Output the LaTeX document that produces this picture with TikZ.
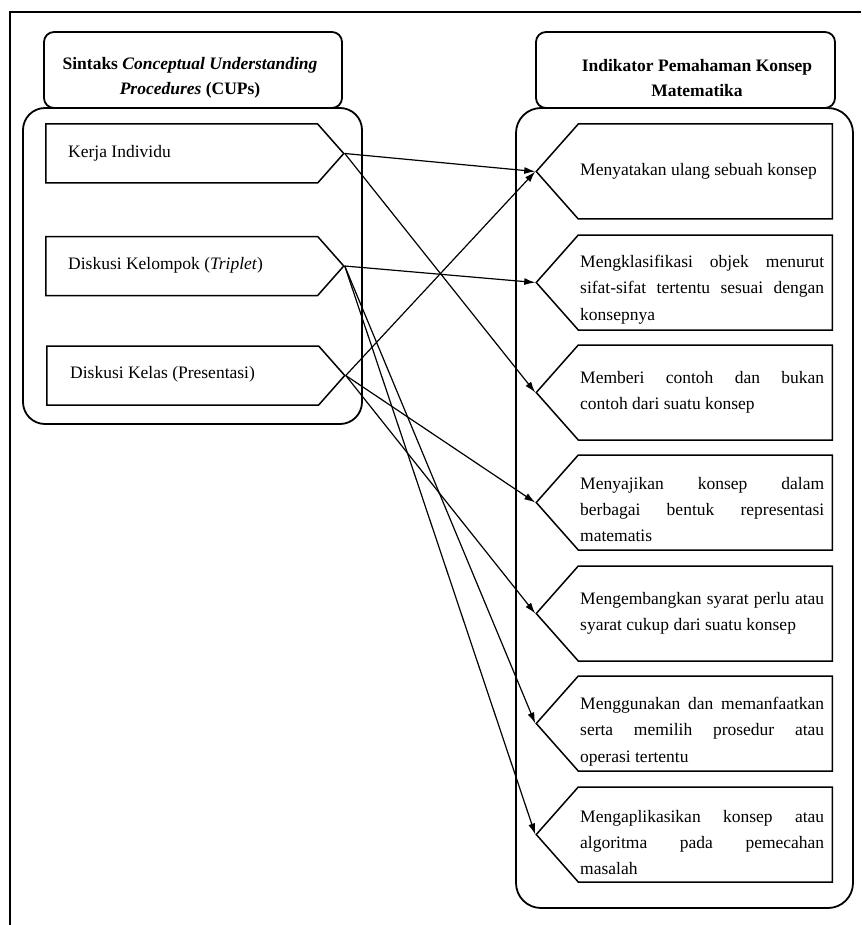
\documentclass[tikz,border=0pt]{standalone}
\usepackage{fontspec}
\setmainfont{Liberation Serif}
\usetikzlibrary{arrows.meta,shapes.symbols,positioning}
\tikzset{
    headbox/.style={draw=black, fill=white, line width=1.8pt, rounded corners=10pt,
        minimum width=298pt, minimum height=76pt},
    headtext/.style={align=center, inner sep=0pt,
        font=\fontsize{17.5}{24.7}\selectfont\bfseries},
    sintaks/.style={signal, signal to=east, signal pointer angle=97, draw=black,
        line width=1.5pt, minimum width=298pt, minimum height=59pt, inner sep=0pt},
    indikator/.style={signal, signal to=west, signal pointer angle=97, draw=black,
        line width=1.5pt, minimum width=296pt, minimum height=95pt, inner sep=0pt},
    itemtext/.style={inner sep=0pt, font=\fontsize{17.5}{26.4}\selectfont},
    desc/.style={itemtext, text width=244pt, align=justify},
    link/.style={draw=black, line width=1.2pt, -{Latex[length=11pt,width=7pt]}},
}

\begin{document}
\begin{tikzpicture}[x=1pt, y=-1pt]
	\useasboundingbox (0,0) rectangle (861,925);
	% page frame, cut at right and bottom
	\draw[line width=1.3pt] (10,925) -- (10,12) -- (861,12);
	% containers
	\draw[line width=1.8pt, rounded corners=22pt] (23,108) rectangle (362,424);
	\draw[line width=1.8pt, rounded corners=25pt] (516,108) rectangle (853,908);
	% headers
	\node[headbox] (hdL) at (193,70) {};
	\node[headtext] at (190,78) {Sintaks \textit{Conceptual Understanding}\\\textit{Procedures} (CUPs)};
	\node[headbox, minimum width=299pt] (hdR) at (685.5,70) {};
	\node[headtext] at (697,78) {Indikator Pemahaman Konsep\\Matematika};
	% sintaks CUPs
	\node[sintaks, anchor=west] (k1) at (45,153.5) {};
	\node[itemtext, anchor=west] at (68,153) {Kerja Individu};
	\node[sintaks, anchor=west] (k2) at (45,266) {};
	\node[itemtext, anchor=west] at (68,265) {Diskusi Kelompok (\textit{Triplet})};
	\node[sintaks, anchor=west] (k3) at (46,375.5) {};
	\node[itemtext, anchor=west] at (70,374) {Diskusi Kelas (Presentasi)};
	% indikator
	\node[indikator, anchor=east] (p1) at (833,171.5) {};
	\node[desc, anchor=west] at (580,171.5) {Menyatakan ulang sebuah konsep};
	\node[indikator, anchor=east] (p2) at (833,282.5) {};
	\node[desc, anchor=west] at (580,289.5) {Mengklasifikasi objek menurut\linebreak
		sifat-sifat tertentu sesuai dengan\linebreak konsepnya};
	\node[indikator, anchor=east] (p3) at (833,392.5) {};
	\node[desc, anchor=west] at (580,392.5) {Memberi contoh dan bukan\linebreak
		contoh dari suatu konsep};
	\node[indikator, anchor=east] (p4) at (833,502.5) {};
	\node[desc, anchor=west] at (580,509.5) {Menyajikan konsep dalam\linebreak
		berbagai bentuk representasi\linebreak matematis};
	\node[indikator, anchor=east] (p5) at (833,613.5) {};
	\node[desc, anchor=west] at (580,613.5) {Mengembangkan syarat perlu atau\linebreak
		syarat cukup dari suatu konsep};
	\node[indikator, anchor=east] (p6) at (833,723.5) {};
	\node[desc, anchor=west] at (580,731.5) {Menggunakan dan memanfaatkan\linebreak
		serta memilih prosedur atau\linebreak operasi tertentu};
	\node[indikator, anchor=east] (p7) at (833,834.5) {};
	\node[desc, anchor=west] at (580,842.5) {Mengaplikasikan konsep atau\linebreak
		algoritma pada pemecahan\linebreak masalah};
	% links
	\draw[link] (k1.east) -- (p1.west);
	\draw[link] (k1.east) -- (p3.west);
	\draw[link] (k2.east) -- (p2.west);
	\draw[link] (k2.east) -- (p6.west);
	\draw[link] (k2.east) -- (p7.west);
	\draw[link] (k3.east) -- (p1.west);
	\draw[link] (k3.east) -- (p4.west);
	\draw[link] (k3.east) -- (p5.west);
\end{tikzpicture}
\end{document}
